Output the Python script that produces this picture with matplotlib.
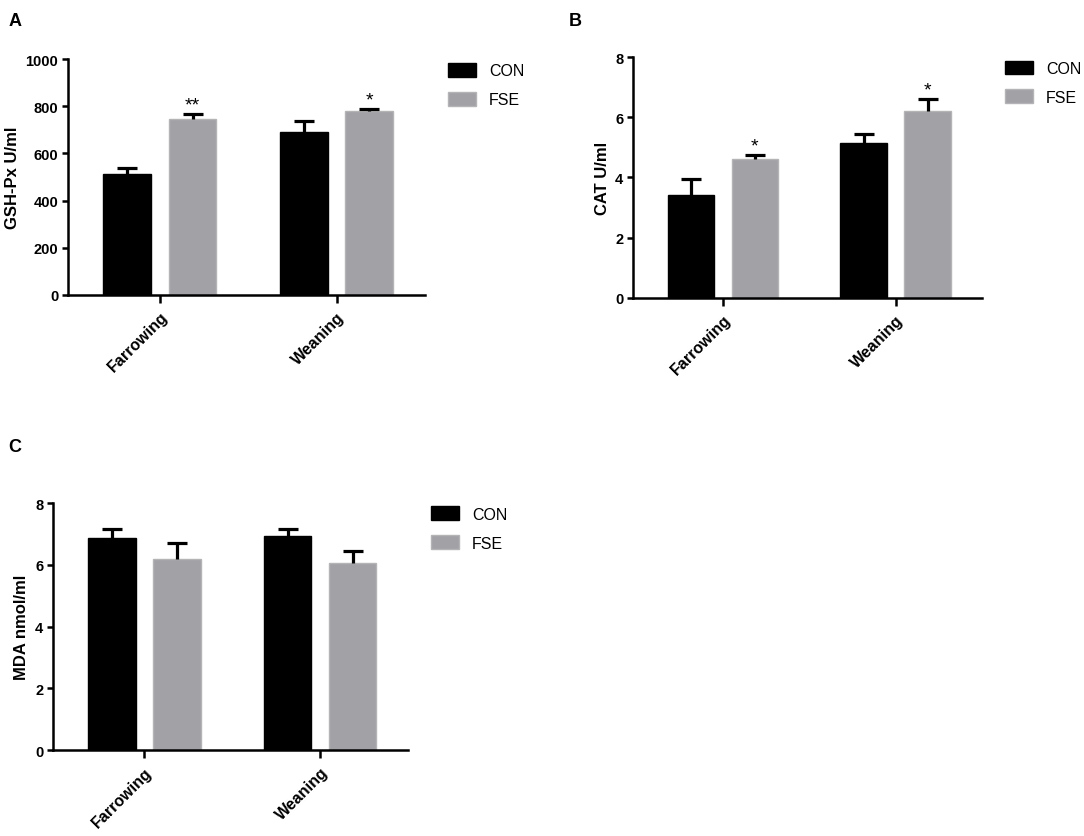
import matplotlib
matplotlib.use("Agg")
import matplotlib.pyplot as plt
import numpy as np

plt.rcParams["font.family"] = ["Liberation Sans", "DejaVu Sans"]

categories = ["Farrowing", "Weaning"]
groups = ["CON", "FSE"]

gsh_con = [511, 692]
gsh_con_err = [27, 44]
gsh_fse = [747, 780]
gsh_fse_err = [21, 10]
gsh_sig = ["**", "*"]

cat_con = [3.42, 5.14]
cat_con_err = [0.53, 0.30]
cat_fse = [4.62, 6.22]
cat_fse_err = [0.13, 0.40]
cat_sig = ["*", "*"]

mda_con = [6.87, 6.94]
mda_con_err = [0.29, 0.22]
mda_fse = [6.19, 6.05]
mda_fse_err = [0.52, 0.39]
mda_sig = ["", ""]

con_color = "#000000"
fse_color = "#a2a2a6"
fse_edge = "#b4b4b7"


def upper_err(ax, x, vals, errs):
    # only the upper half of the error bar, like Prism draws it
    _, caps, _ = ax.errorbar(x, vals, yerr=[np.zeros(len(vals)), errs], fmt="none", ecolor="black",
                             elinewidth=2.3, capsize=7.5, capthick=2.3, zorder=3)
    caps[0].set_visible(False)


def panel(ax, con, con_err, fse, fse_err, sig, ylabel, ymax, ystep, sig_pad):
    x = np.arange(len(categories))
    w = 0.27
    off = 0.185
    ax.bar(x - off, con, w, color=con_color, edgecolor=con_color, linewidth=1, label=groups[0], zorder=2)
    ax.bar(x + off, fse, w, color=fse_color, edgecolor=fse_edge, linewidth=1, label=groups[1], zorder=2)
    upper_err(ax, x - off, con, con_err)
    upper_err(ax, x + off, fse, fse_err)
    for i in range(len(categories)):
        if sig[i]:
            ax.text(x[i] + off, fse[i] + fse_err[i] + sig_pad, sig[i], ha="center", va="bottom",
                    fontsize=14, color="black")
    ax.set_xlim(-0.52, 1.5)
    ax.set_ylim(0, ymax)
    ax.set_yticks(np.arange(0, ymax + ystep / 2, ystep))
    ax.set_xticks(x)
    ax.set_xticklabels(categories, rotation=45, ha="right", rotation_mode="anchor",
                       fontsize=11.5, fontweight="bold")
    for lab in ax.get_yticklabels():
        lab.set_fontweight("bold")
        lab.set_fontsize(10.5)
    ax.set_ylabel(ylabel, fontsize=12, fontweight="bold", labelpad=4)
    ax.spines["top"].set_visible(False)
    ax.spines["right"].set_visible(False)
    ax.spines["left"].set_linewidth(1.8)
    ax.spines["bottom"].set_linewidth(1.8)
    ax.tick_params(axis="y", width=1.8, length=4, pad=3)
    ax.tick_params(axis="x", width=1.8, length=6, pad=4)
    ax.legend(loc="upper left", bbox_to_anchor=(1.025, 1.045), frameon=False, fontsize=11.5,
              handlelength=1.75, handleheight=0.95, labelspacing=0.85, handletextpad=0.8)


fig = plt.figure(figsize=(10.84, 8.37), dpi=100)
axA = fig.add_axes([0.0627, 0.6464, 0.3293, 0.2819])
axB = fig.add_axes([0.584, 0.6428, 0.322, 0.2879])
axC = fig.add_axes([0.0489, 0.1027, 0.3275, 0.2951])

panel(axA, gsh_con, gsh_con_err, gsh_fse, gsh_fse_err, gsh_sig, "GSH-Px U/ml", 1000, 200, 2)
panel(axB, cat_con, cat_con_err, cat_fse, cat_fse_err, cat_sig, "CAT U/ml", 8, 2, 0.02)
panel(axC, mda_con, mda_con_err, mda_fse, mda_fse_err, mda_sig, "MDA nmol/ml", 8, 2, 0.02)

fig.text(0.008, 0.985, "A", fontsize=13, fontweight="bold", va="top")
fig.text(0.525, 0.985, "B", fontsize=13, fontweight="bold", va="top")
fig.text(0.008, 0.475, "C", fontsize=13, fontweight="bold", va="top")

fig.savefig("out.png", dpi=100)
